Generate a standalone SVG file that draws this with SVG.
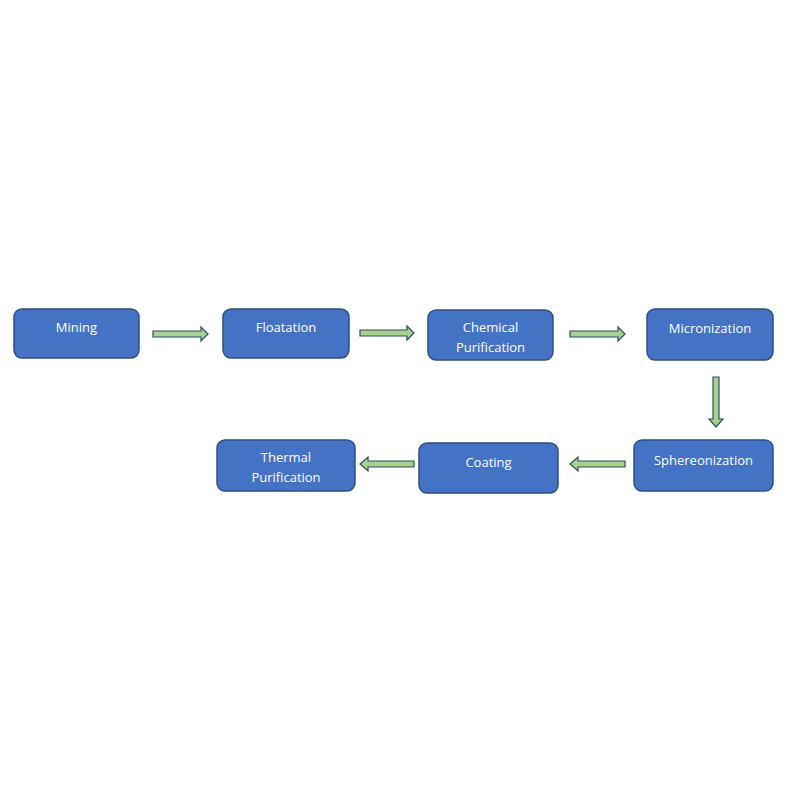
<svg xmlns="http://www.w3.org/2000/svg" width="800" height="800" viewBox="0 0 800 800">
<style>
.n{fill:#4472c4;stroke:#2f4f7f;stroke-width:1.5}
.t{fill:#fff;font-family:"Open Sans",sans-serif;font-size:13px;text-anchor:middle}
.a{fill:#a9d18e;stroke:#2f4f5f;stroke-width:1.2}
</style>
<rect width="800" height="800" fill="#fff"/>
<g id="mining"><rect class="n" x="14" y="309" width="125" height="49" rx="8"/><text class="t" x="76.5" y="332">Mining</text></g>
<g id="floatation"><rect class="n" x="223" y="309" width="126" height="49" rx="8"/><text class="t" x="286" y="332">Floatation</text></g>
<g id="chemical"><rect class="n" x="428" y="310" width="125" height="50" rx="8"/><text class="t" x="490.5" y="332">Chemical</text><text class="t" x="490.5" y="352">Purification</text></g>
<g id="micronization"><rect class="n" x="647" y="309" width="126" height="51" rx="8"/><text class="t" x="710" y="333">Micronization</text></g>
<g id="sphereonization"><rect class="n" x="634" y="440" width="139" height="51" rx="8"/><text class="t" x="703.5" y="465">Sphereonization</text></g>
<g id="coating"><rect class="n" x="419" y="443" width="139" height="50" rx="8"/><text class="t" x="488.5" y="467">Coating</text></g>
<g id="thermal"><rect class="n" x="217" y="440" width="138" height="51" rx="8"/><text class="t" x="286" y="462">Thermal</text><text class="t" x="286" y="482">Purification</text></g>
<g id="connectors">
<polygon class="a" points="153,331 201,331 201,327 208,334 201,341 201,337 153,337"/>
<polygon class="a" points="360,330 407,330 407,326 414,333 407,340 407,336 360,336"/>
<polygon class="a" points="570,331 618,331 618,327 625,334 618,341 618,337 570,337"/>
<polygon class="a" points="713,377 719,377 719,419 723,419 716,427 709,419 713,419"/>
<polygon class="a" points="625,461 578,461 578,457 570,464 578,471 578,467 625,467"/>
<polygon class="a" points="414,461 368,461 368,457 360,464 368,471 368,467 414,467"/>
</g>
</svg>
